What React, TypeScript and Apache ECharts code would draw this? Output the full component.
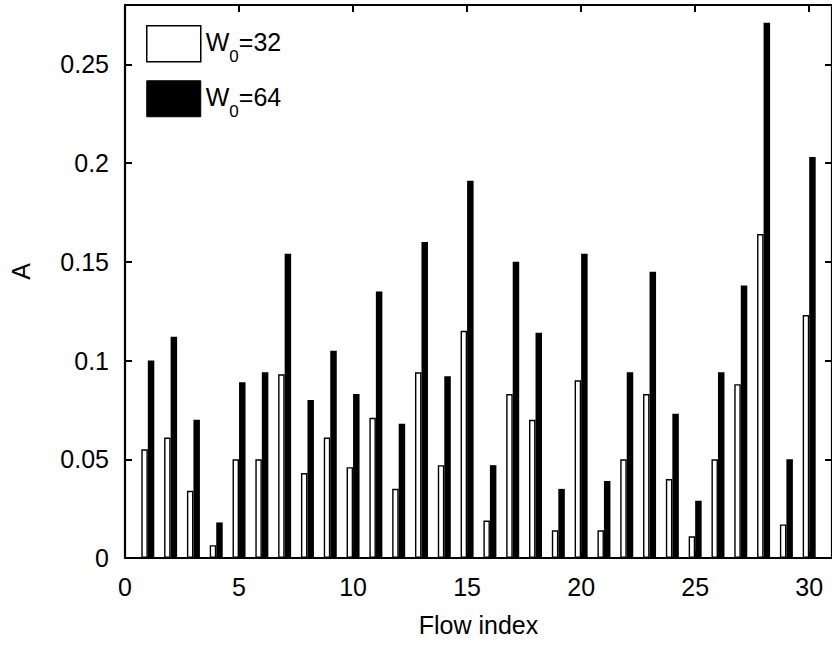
import React, { useEffect, useRef } from "react";
import * as echarts from "echarts";

const flows = [1,2,3,4,5,6,7,8,9,10,11,12,13,14,15,16,17,18,19,20,21,22,23,24,25,26,27,28,29,30];
const w32 = [0.055,0.061,0.034,0.0065,0.050,0.050,0.093,0.043,0.061,0.046,0.071,0.035,0.094,0.047,0.115,0.019,0.083,0.070,0.014,0.090,0.014,0.050,0.083,0.040,0.011,0.050,0.088,0.164,0.017,0.123];
const w64 = [0.100,0.112,0.070,0.018,0.089,0.094,0.154,0.080,0.105,0.083,0.135,0.068,0.160,0.092,0.191,0.047,0.150,0.114,0.035,0.154,0.039,0.094,0.145,0.073,0.029,0.094,0.138,0.271,0.050,0.203];
const seriesNames = ["W0=32", "W0=64"];
const legendLabels: Record<string, string> = {
  "W0=32": "{m|W}{s|0}{m|=32}",
  "W0=64": "{m|W}{s|0}{m|=64}",
};
const xLabel = "Flow index";
const yLabel = "A";

const FONT = "Liberation Sans, Arial, Helvetica, sans-serif";

export default function App() {
  const ref = useRef<HTMLDivElement>(null);
  useEffect(() => {
    if (!ref.current) return;
    const chart = echarts.init(ref.current, undefined, { renderer: "svg" });
    const axisLine = { show: true, onZero: false, lineStyle: { color: "#000", width: 2.2 } };
    const axisTick = { show: true, inside: true, length: 7, lineStyle: { color: "#000", width: 2 } };
    const fmtY = (v: number) => String(+v.toFixed(2));
    chart.setOption({
      animation: false,
      backgroundColor: "#fff",
      grid: { left: 125, right: -2, top: 5, bottom: 87, containLabel: false },
      legend: {
        orient: "vertical",
        left: 146,
        top: 25,
        padding: 0,
        itemWidth: 54,
        itemHeight: 36,
        itemGap: 15,
        icon: "rect",
        data: [
          { name: seriesNames[0], itemStyle: { color: "#fff", borderColor: "#000", borderWidth: 1.5 } },
          { name: seriesNames[1], itemStyle: { color: "#000", borderColor: "#000", borderWidth: 1 } },
        ],
        formatter: (n: string) => legendLabels[n] || n,
        textStyle: {
          color: "#000",
          fontFamily: FONT,
          fontSize: 25,
          rich: {
            m: { fontSize: 25, fontFamily: FONT, color: "#000", padding: [0, 0, 4, 0] },
            s: { fontSize: 17, fontFamily: FONT, color: "#000", padding: [26, 0, 0, 0] },
          },
        },
        selectedMode: false,
      },
      xAxis: [
        {
          type: "value",
          min: 0,
          max: 31,
          interval: 5,
          position: "bottom",
          axisLine,
          axisTick,
          splitLine: { show: false },
          axisLabel: { showMaxLabel: false, fontSize: 25, color: "#000", fontFamily: FONT, margin: 16 },
          name: xLabel,
          nameLocation: "middle",
          nameGap: 54,
          nameTextStyle: { fontSize: 25, color: "#000", fontFamily: FONT },
        },
        {
          type: "value",
          min: 0,
          max: 31,
          interval: 5,
          position: "top",
          axisLine,
          axisTick,
          splitLine: { show: false },
          axisLabel: { show: false },
        },
      ],
      yAxis: [
        {
          type: "value",
          min: 0,
          max: 0.28,
          interval: 0.05,
          position: "left",
          axisLine,
          axisTick,
          splitLine: { show: false },
          axisLabel: { showMaxLabel: false, fontSize: 25, color: "#000", fontFamily: FONT, margin: 16, formatter: fmtY },
          name: yLabel,
          nameLocation: "middle",
          nameRotate: 90,
          nameGap: 92,
          nameTextStyle: { fontSize: 25, color: "#000", fontFamily: FONT, padding: [0, 0, 0, 20] },
        },
        {
          type: "value",
          min: 0,
          max: 0.28,
          interval: 0.05,
          position: "right",
          axisLine,
          axisTick,
          splitLine: { show: false },
          axisLabel: { show: false },
        },
      ],
      series: [
        {
          type: "bar",
          name: seriesNames[0],
          xAxisIndex: 0,
          yAxisIndex: 0,
          barWidth: 6.5,
          barGap: "0%",
          data: flows.map((f, i) => [f, w32[i]]),
          itemStyle: { color: "#fff", borderColor: "#000", borderWidth: 1.4 },
          emphasis: { disabled: true },
        },
        {
          type: "bar",
          name: seriesNames[1],
          xAxisIndex: 0,
          yAxisIndex: 0,
          barWidth: 6.5,
          barGap: "0%",
          data: flows.map((f, i) => [f, w64[i]]),
          itemStyle: { color: "#000" },
          emphasis: { disabled: true },
        },
      ],
    });
    return () => chart.dispose();
  }, []);
  return (
    <div
      ref={ref}
      style={{ position: "fixed", left: 0, top: 0, width: 832, height: 645, background: "#fff" }}
    />
  );
}
